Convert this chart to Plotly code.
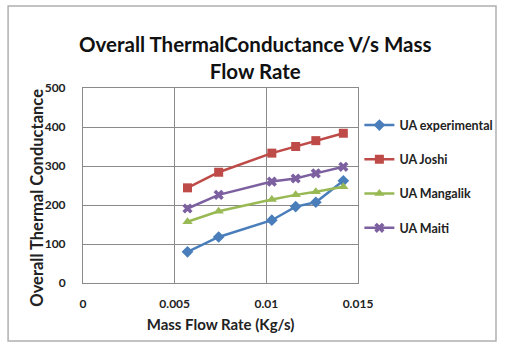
import plotly.graph_objects as go

mass_flow = [0.0057, 0.0074, 0.0103, 0.0116, 0.0127, 0.0142]
ua_experimental = [80, 118, 161, 196, 207, 262]
ua_joshi = [244, 284, 333, 350, 365, 384]
ua_mangalik = [157, 184, 214, 226, 234, 247]
ua_maiti = [191, 226, 260, 268, 281, 298]

series = [
    ("UA experimental", ua_experimental, "#4A7EBB", "diamond", 9),
    ("UA Joshi", ua_joshi, "#BE4B48", "square", 9),
    ("UA Mangalik", ua_mangalik, "#98B954", "triangle-up", 9),
    ("UA Maiti", ua_maiti, "#7D60A0", "x", 9),
]

fig = go.Figure()
for name, vals, color, sym, sz in series:
    fig.add_trace(go.Scatter(
        x=mass_flow, y=vals, name="<b>" + name + "</b>", mode="lines+markers",
        line=dict(color=color, width=2.5),
        marker=dict(symbol=sym, size=sz, color=color),
        legendgroup=name,
    ))

font = "Lato, Open Sans, sans-serif"
fig.update_layout(
    width=510, height=345,
    margin=dict(l=83, r=148, t=88, b=62),
    paper_bgcolor="white", plot_bgcolor="white",
    font=dict(family=font, color="#222", size=12),
    showlegend=True,
    legend=dict(x=1.005, xanchor="left", y=0.885, yanchor="top",
                traceorder="grouped", tracegroupgap=15,
                font=dict(size=12.5, family=font, color="#222"),
                itemwidth=30, bgcolor="rgba(0,0,0,0)"),
    xaxis=dict(range=[0, 0.015], tickvals=[0, 0.005, 0.01, 0.015],
               ticktext=["<b>0</b>", "<b>0.005</b>", "<b>0.01</b>", "<b>0.015</b>"],
               showgrid=True, gridcolor="#8a8a8a", gridwidth=1,
               showline=True, linecolor="#8a8a8a", mirror=True,
               zeroline=False, ticks="", ticklabelstandoff=10,
               tickfont=dict(size=12),
               title=dict(text="<b>Mass Flow Rate (Kg/s)</b>", standoff=9,
                          font=dict(size=15, family=font, color="#222"))),
    yaxis=dict(range=[0, 500], tickvals=[0, 100, 200, 300, 400, 500],
               ticktext=["<b>%d</b>" % v for v in [0, 100, 200, 300, 400, 500]],
               showgrid=True, gridcolor="#8a8a8a", gridwidth=1,
               showline=True, linecolor="#8a8a8a", mirror=True,
               zeroline=False, ticks="", ticklabelstandoff=14,
               tickfont=dict(size=12)),
)

fig.add_annotation(text="<b>Overall ThermalConductance V/s Mass<br>Flow Rate</b>",
                   xref="paper", yref="paper", x=(258 - 83) / 279, y=(283 - 57.5) / 195,
                   xanchor="center", yanchor="middle", showarrow=False,
                   font=dict(size=20.5, family=font, color="#111"))

fig.add_annotation(text="<b>Overall Thermal Conductance</b>",
                   xref="paper", yref="paper", x=(36 - 83) / 279, y=(283 - 198) / 195,
                   xanchor="center", yanchor="middle", showarrow=False, textangle=-90,
                   font=dict(size=16.5, family=font, color="#222"))

fig.add_shape(type="rect", xref="paper", yref="paper",
              x0=-76/279, x1=1+140/279, y0=-58/195, y1=1+82/195,
              line=dict(color="#b0b0b0", width=1.5), fillcolor="rgba(0,0,0,0)")

fig.write_html("out.html")
